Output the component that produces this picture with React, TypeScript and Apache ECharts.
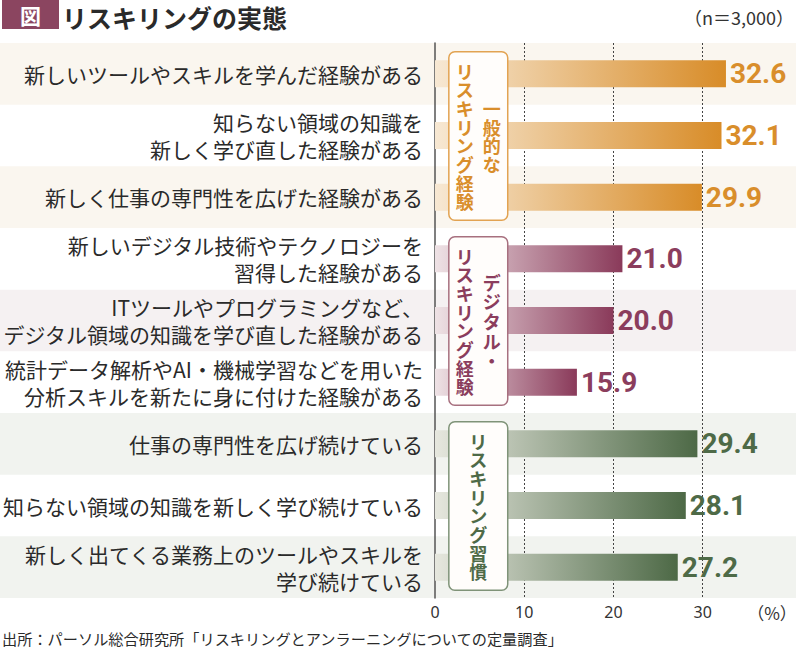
import React, { useRef, useEffect } from 'react'
import * as echarts from 'echarts'

// 項目（上から順）
const categories = [
  '新しいツールやスキルを学んだ経験がある',
  '知らない領域の知識を\n新しく学び直した経験がある',
  '新しく仕事の専門性を広げた経験がある',
  '新しいデジタル技術やテクノロジーを\n習得した経験がある',
  'ITツールやプログラミングなど、\nデジタル領域の知識を学び直した経験がある',
  '統計データ解析やAI・機械学習などを用いた\n分析スキルを新たに身に付けた経験がある',
  '仕事の専門性を広げ続けている',
  '知らない領域の知識を新しく学び続けている',
  '新しく出てくる業務上のツールやスキルを\n学び続けている'
]
const values = [32.6, 32.1, 29.9, 21.0, 20.0, 15.9, 29.4, 28.1, 27.2]
const groupOfRow = [0, 0, 0, 1, 1, 1, 2, 2, 2]
const xTicks = [0, 10, 20, 30]

// グループ見出し（縦書き、右の列から）
const groupColumns = [
  ['一般的な', 'リスキリング経験'],
  ['デジタル・', 'リスキリング経験'],
  ['リスキリング習慣']
]

const groupStyles = [
  { band: '#faf6ef', start: '#f7e8d3', end: '#d88c28', label: '#d98e2b', border: '#e2a352' },
  { band: '#f5f1f2', start: '#eee2e5', end: '#8a3a5a', label: '#8b3d5d', border: '#a7707f' },
  { band: '#f1f3ef', start: '#e6e7de', end: '#4d6946', label: '#4e6a47', border: '#7f9378' }
]

const title = 'リスキリングの実態'
const sampleNote = '（n＝3,000）'
const sourceNote = '出所：パーソル総合研究所「リスキリングとアンラーニングについての定量調査」'

const JP = '"Noto Sans CJK JP", "Noto Sans", sans-serif'

const App: React.FC = () => {
  const chartRef = useRef<HTMLDivElement>(null)

  useEffect(() => {
    if (!chartRef.current) return
    document.body.style.margin = '0'
    const chart = echarts.init(chartRef.current, null, { renderer: 'svg' })

    const data = values.map((v, i) => {
      const s = groupStyles[groupOfRow[i]]
      return {
        value: v,
        itemStyle: {
          color: new echarts.graphic.LinearGradient(0, 0, 1, 0, [
            { offset: 0, color: s.start },
            { offset: 1, color: s.end }
          ])
        },
        label: { color: s.label }
      }
    })

    chart.setOption({
      animation: false,
      grid: { left: 433, right: 4, top: 43, bottom: 53 },
      xAxis: {
        type: 'value',
        min: 0,
        max: 40,
        interval: 10,
        axisLine: { show: false },
        axisTick: { show: false },
        axisLabel: {
          margin: 6,
          fontSize: 16,
          fontFamily: '"Noto Sans", sans-serif',
          color: '#333',
          formatter: (v: number) => (xTicks.includes(v) ? String(v) : '')
        },
        splitLine: {
          show: true,
          showMinLine: false,
          showMaxLine: false,
          lineStyle: { color: '#444', width: 1, type: [2, 2] }
        }
      },
      yAxis: {
        type: 'category',
        inverse: true,
        data: categories,
        axisLine: { show: true, lineStyle: { color: '#555', width: 1.5 } },
        axisTick: { show: false },
        axisLabel: {
          margin: 12,
          fontSize: 21,
          lineHeight: 27,
          fontFamily: JP,
          color: '#2a2a2a',
          align: 'right'
        }
      },
      series: [
        {
          type: 'bar',
          data,
          barWidth: 27,
          silent: true,
          label: {
            show: true,
            position: 'right',
            distance: 4,
            fontFamily: 'Roboto, sans-serif',
            fontWeight: 'bold',
            fontSize: 28,
            formatter: (p: any) => Number(p.value).toFixed(1)
          }
        }
      ]
    })

    // 行位置はスケールから求める
    const rowY = categories.map((_, i) => chart.convertToPixel({ yAxisIndex: 0 }, i) as number)
    const rowH = rowY[1] - rowY[0]
    const width = chart.getWidth()
    const boxLeft = chart.convertToPixel({ xAxisIndex: 0 }, 1.55) as number
    const boxRight = chart.convertToPixel({ xAxisIndex: 0 }, 8.15) as number
    const boxCx = (boxLeft + boxRight) / 2

    const graphic: any[] = []

    // 行の背景帯
    rowY.forEach((y, i) => {
      if (i % 2 === 1) return
      graphic.push({
        type: 'rect',
        z: -10,
        silent: true,
        shape: { x: 0, y: y - rowH / 2, width, height: rowH },
        style: { fill: groupStyles[groupOfRow[i]].band }
      })
    })

    // グループ見出しの枠と縦書き文字（1文字ずつ置く）
    groupColumns.forEach((cols, g) => {
      const rows = groupOfRow.map((gg, i) => (gg === g ? i : -1)).filter(i => i >= 0)
      const top = rowY[rows[0]] - 22
      const bottom = rowY[rows[rows.length - 1]] + 23
      const cy = (top + bottom) / 2
      const s = groupStyles[g]
      graphic.push({
        type: 'rect',
        z: 10,
        silent: true,
        shape: { x: boxLeft, y: top, width: boxRight - boxLeft, height: bottom - top, r: 6 },
        style: { fill: '#fffdfb', stroke: s.border, lineWidth: 1.5 }
      })
      const gap = 27
      cols.forEach((col, c) => {
        const x = boxCx + ((cols.length - 1) / 2) * gap - c * gap
        const chars = col.split('')
        const step = g === 1 && c === 0 ? 19.6 : 18.7
        chars.forEach((ch, k) => {
          graphic.push({
            type: 'text',
            z: 11,
            silent: true,
            style: {
              text: ch,
              x,
              y: cy + (k - (chars.length - 1) / 2) * step,
              align: 'center',
              verticalAlign: 'middle',
              lineHeight: 18,
              fontSize: 18,
              fontWeight: 'bold',
              fontFamily: JP,
              fill: s.label
            }
          })
        })
      })
    })

    // 見出し・注記
    graphic.push(
      {
        type: 'rect',
        silent: true,
        shape: { x: 2, y: 0, width: 57, height: 29 },
        style: { fill: '#8b4560' }
      },
      {
        type: 'text',
        silent: true,
        style: {
          text: '図',
          x: 30.5,
          y: 15,
          align: 'center',
          verticalAlign: 'middle',
          fontSize: 21,
          fontWeight: 'bold',
          fontFamily: JP,
          fill: '#fff'
        }
      },
      {
        type: 'text',
        silent: true,
        style: {
          text: title,
          x: 62,
          y: 16.5,
          verticalAlign: 'middle',
          lineHeight: 26,
          fontSize: 25,
          fontWeight: 'bold',
          fontFamily: JP,
          fill: '#2a2a2a'
        }
      },
      {
        type: 'text',
        silent: true,
        style: {
          text: sampleNote,
          x: 794,
          y: 17,
          align: 'right',
          verticalAlign: 'middle',
          fontSize: 18,
          fontFamily: JP,
          fill: '#333'
        }
      },
      {
        type: 'text',
        silent: true,
        style: {
          text: '（%）',
          x: 772,
          y: 612,
          align: 'center',
          verticalAlign: 'middle',
          fontSize: 17,
          fontFamily: JP,
          fill: '#333'
        }
      },
      {
        type: 'text',
        silent: true,
        style: {
          text: sourceNote,
          x: 2,
          y: 638,
          verticalAlign: 'middle',
          fontSize: 15.2,
          fontFamily: JP,
          fill: '#2a2a2a'
        }
      }
    )

    chart.setOption({ graphic })

    return () => {
      chart.dispose()
    }
  }, [])

  return <div ref={chartRef} style={{ width: 796, height: 651 }} />
}

export default App
